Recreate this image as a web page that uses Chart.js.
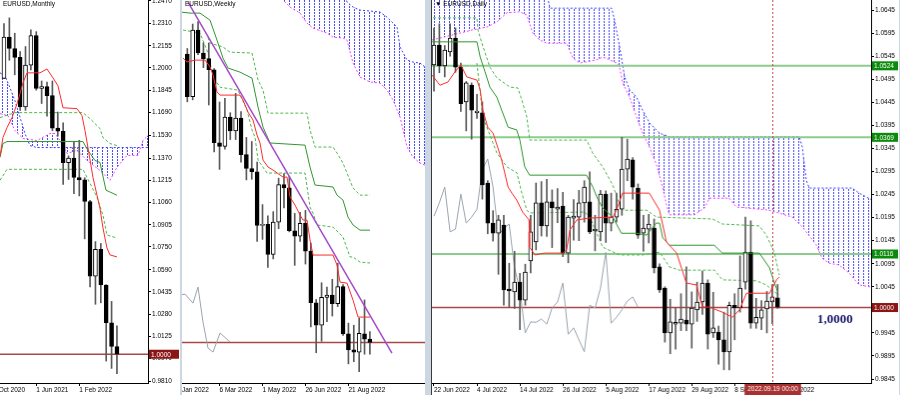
<!DOCTYPE html>
<html>
<head>
<meta charset="utf-8">
<script src="https://cdn.jsdelivr.net/npm/chart.js@4.4.0/dist/chart.umd.min.js"></script>
<style>
html, body { margin: 0; padding: 0; width: 900px; height: 395px; overflow: hidden; background: #cdd7e2; position: relative; }
canvas { position: absolute; top: 0; background: #fff; }
#monthly { left: 0; }
#weekly { left: 182px; }
#daily { left: 431px; border-left: 1px solid #3a3a3a; }
</style>
</head>
<body>
<canvas id="monthly" width="180" height="395"></canvas>
<canvas id="weekly" width="243" height="395"></canvas>
<canvas id="daily" width="468" height="395"></canvas>
<script>
// ---------- Monthly (index 0 = Dec 2020) ----------
const M_OPEN  = [1.1927,1.2216,1.2136,1.2074,1.1728,1.2020,1.2227,1.1858,1.1870,1.1807,1.1580,1.1558,1.1338,1.1370,1.1235,1.1218,1.1067,1.0545,1.0733,1.0484,1.0220,1.0054];
const M_HIGH  = [1.2310,1.2350,1.2243,1.2114,1.2150,1.2266,1.2254,1.1909,1.1901,1.1909,1.1692,1.1616,1.1386,1.1482,1.1495,1.1233,1.1076,1.0787,1.0774,1.0486,1.0369,1.0198];
const M_LOW   = [1.1925,1.2054,1.1952,1.1704,1.1704,1.1986,1.1845,1.1752,1.1664,1.1562,1.1524,1.1186,1.1221,1.1121,1.1106,1.0806,1.0470,1.0349,1.0359,0.9952,0.9901,0.9864];
const M_CLOSE = [1.2216,1.2136,1.2074,1.1728,1.2020,1.2227,1.1858,1.1870,1.1807,1.1580,1.1558,1.1338,1.1370,1.1235,1.1218,1.1067,1.0545,1.0733,1.0484,1.0220,1.0054,1.0001];
const M_TENKAN = [[-0.74,1.1382],[-0.19,1.1514],[0.56,1.1583],[1.49,1.1653],[2.42,1.1750],[2.97,1.1820],[3.53,1.1896],[4.28,1.1966],[6.69,1.1966],[7.99,1.1993],[9.11,1.1931],[10.04,1.1875],[10.97,1.1722],[13.57,1.1716],[14.50,1.1667],[15.06,1.1563],[15.61,1.1444],[16.54,1.1236],[17.29,1.1111],[17.84,1.1021],[18.40,1.0882],[19.14,1.0743],[19.70,1.0694],[21.00,1.0680]];
const M_KIJUN = [[-0.74,1.1375],[-0.19,1.1472],[0.56,1.1486],[14.68,1.1486],[15.61,1.1424],[16.91,1.1354],[17.84,1.1340],[18.96,1.1146],[21.00,1.1111]];
const M_DASH1 = [[-0.74,1.1653],[2.04,1.1688],[14.68,1.1688],[15.99,1.1646],[17.84,1.1577],[18.40,1.1514],[19.70,1.1472],[21.00,1.1458]];
const M_DASH2 = [[-0.74,1.1215],[0.56,1.1292],[14.68,1.1292],[17.29,1.1097],[18.40,1.0972],[19.14,1.0833],[21.00,1.0812]];
const M_SPAN_A = [[-0.74,1.1966],[0.19,1.1945],[1.12,1.1861],[2.04,1.1771],[2.60,1.1702],[3.35,1.1611],[3.90,1.1542],[4.83,1.1458],[6.13,1.1444],[26.77,1.1444]];
const M_SPAN_B = [[-0.74,1.1681],[0.74,1.1667],[2.04,1.1563],[3.53,1.1507],[6.13,1.1493],[8.55,1.1542],[9.48,1.1542],[10.41,1.1493],[11.71,1.1403],[13.57,1.1424],[15.43,1.1354],[17.84,1.1285],[19.70,1.1215],[21.00,1.1306],[22.86,1.1389],[24.91,1.1389],[25.84,1.1493],[26.77,1.1528]];
const M_XTICKS = [-2, 6, 14];
const M_XLABELS = ['1 Oct 2020', '1 Jun 2021', '1 Feb 2022'];
const M_YTICKS = [1.2470,1.2310,1.2155,1.2000,1.1845,1.1690,1.1530,1.1370,1.1215,1.1060,1.0905,1.0750,1.0590,1.0435,1.0280,1.0125,0.9970,0.9810];

// ---------- Weekly (index 0 = 23 Jan 2022) ----------
const W_OPEN  = [1.1343,1.1145,1.1455,1.1348,1.1322,1.1270,1.0930,1.0913,1.1050,1.0985,1.1045,1.0875,1.0810,1.0795,1.0545,1.0550,1.0410,1.0560,1.0735,1.0720,1.0520,1.0495,1.0555,1.0425,1.0185,1.0080,1.0210,1.0220,1.0180,1.0260,1.0040,0.9965,0.9955,1.0040,1.0015];
const W_HIGH  = [1.1369,1.1483,1.1495,1.1395,1.1395,1.1275,1.1120,1.1137,1.1070,1.1160,1.1075,1.0955,1.0936,1.0840,1.0642,1.0590,1.0609,1.0765,1.0787,1.0774,1.0601,1.0606,1.0615,1.0463,1.0200,1.0278,1.0258,1.0294,1.0369,1.0270,1.0090,1.0080,1.0113,1.0198,1.0050];
const W_LOW   = [1.1121,1.1130,1.1340,1.1280,1.1106,1.0887,1.0806,1.0900,1.0945,1.0945,1.0840,1.0757,1.0760,1.0470,1.0480,1.0349,1.0389,1.0530,1.0627,1.0515,1.0359,1.0470,1.0365,1.0072,0.9952,1.0005,1.0097,1.0123,1.0167,1.0033,0.9900,0.9910,0.9864,0.9945,0.9945];
const W_CLOSE = [1.1145,1.1455,1.1348,1.1322,1.1270,1.0930,1.0913,1.1050,1.0985,1.1045,1.0875,1.0810,1.0795,1.0545,1.0550,1.0410,1.0560,1.0735,1.0720,1.0520,1.0495,1.0555,1.0425,1.0185,1.0080,1.0210,1.0220,1.0180,1.0260,1.0040,0.9965,0.9955,1.0042,1.0015,1.0000];
const W_TENKAN = [[-0.80,1.1324],[-0.06,1.1306],[1.43,1.1315],[3.30,1.1315],[4.23,1.1283],[4.79,1.1245],[5.53,1.1166],[6.09,1.1152],[9.81,1.1152],[10.37,1.1129],[11.30,1.1073],[12.23,1.1036],[12.98,1.0966],[13.54,1.0929],[14.10,1.0849],[15.03,1.0817],[15.96,1.0803],[17.82,1.0770],[18.57,1.0770],[19.12,1.0677],[20.06,1.0640],[20.99,1.0593],[21.55,1.0570],[22.29,1.0570],[22.85,1.0477],[23.41,1.0407],[27.13,1.0407],[27.88,1.0360],[28.44,1.0281],[29.74,1.0276],[30.86,1.0197],[31.79,1.0118],[34.02,1.0118]];
const W_KIJUN = [[-1.36,1.1539],[0.50,1.1534],[2.37,1.1534],[4.23,1.1501],[5.53,1.1408],[6.65,1.1324],[7.58,1.1278],[9.81,1.1259],[12.05,1.1231],[13.17,1.1096],[14.10,1.1003],[15.40,1.0929],[21.92,1.0919],[22.85,1.0817],[23.78,1.0733],[27.13,1.0724],[27.88,1.0686],[28.99,1.0663],[29.92,1.0584],[30.86,1.0547],[32.16,1.0523],[34.02,1.0523]];
const W_DASH1 = [[3.85,1.1420],[4.23,1.1394],[6.65,1.1376],[7.95,1.1352],[12.05,1.1348],[13.17,1.1222],[14.10,1.1175],[15.03,1.1068],[22.29,1.1068],[22.85,1.0989],[23.78,1.0910],[27.13,1.0910],[27.88,1.0882],[28.99,1.0835],[30.86,1.0719],[32.16,1.0686],[34.02,1.0686]];
const W_DASH2 = [[-0.80,1.1455],[2.37,1.1441],[3.85,1.1348],[4.79,1.1236],[6.09,1.1189],[9.44,1.1175],[11.12,1.1082],[12.05,1.0989],[12.61,1.0956],[13.17,1.0849],[14.84,1.0789],[21.92,1.0789],[22.85,1.0630],[23.41,1.0602],[24.16,1.0547],[27.13,1.0537],[28.99,1.0491],[30.30,1.0398],[30.86,1.0398],[32.16,1.0374],[34.02,1.0370]];
const W_CHIKOU = [[-1.36,1.0221],[-0.43,1.0225],[1.06,1.0183],[1.99,1.0258],[2.92,1.0095],[3.85,0.9974],[4.79,0.9955],[6.09,1.0044],[7.95,1.0002]];
const W_TREND = [[0.13,1.1585],[38.10,0.9950]];
const W_SPAN_A = [[17.26,1.1650],[29.00,1.1650],[29.74,1.1585],[30.86,1.1562],[32.16,1.1548],[35.88,1.1539],[37.19,1.1515],[39.05,1.1469],[39.61,1.1376],[40.92,1.1315],[42.03,1.1306],[43.33,1.1301],[44.26,1.1283]];
const W_SPAN_B = [[17.26,1.1620],[17.82,1.1595],[19.12,1.1562],[20.99,1.1534],[22.29,1.1487],[23.41,1.1464],[26.01,1.1441],[27.13,1.1422],[28.99,1.1418],[29.74,1.1408],[30.86,1.1301],[32.16,1.1236],[34.02,1.1213],[35.88,1.1208],[37.19,1.1175],[38.31,1.1129],[39.61,1.1050],[40.92,1.0910],[42.03,1.0863],[43.33,1.0835],[44.26,1.0826]];
const W_XTICKS = [-2, 6, 14, 22, 30];
const W_XLABELS = ['9 Jan 2022', '6 Mar 2022', '1 May 2022', '26 Jun 2022', '21 Aug 2022'];

// ---------- Daily (index 0 = 22 Jun 2022) ----------
const D_OPEN  = [1.0526,1.0569,1.0524,1.0554,1.0584,1.0521,1.0446,1.0482,1.0422,1.0422,1.0270,1.0183,1.0161,1.0179,1.0040,1.0034,1.0055,1.0016,1.0101,1.0142,1.0227,1.0177,1.0229,1.0213,1.0220,1.0118,1.0194,1.0196,1.0227,1.0229,1.0166,1.0164,1.0246,1.0183,1.0196,1.0213,1.0300,1.0320,1.0259,1.0161,1.0170,1.0172,1.0088,1.0042,0.9945,0.9964,0.9966,0.9973,0.9964,0.9995,1.0012,1.0053,0.9945,0.9947,0.9930,0.9904,1.0005,0.9999,1.0055,1.0120,0.9966,0.9977,0.9997,1.0012,1.0021];
const D_HIGH  = [1.0606,1.0615,1.0568,1.0615,1.0606,1.0530,1.0490,1.0487,1.0462,1.0446,1.0275,1.0210,1.0200,1.0200,1.0096,1.0122,1.0074,1.0094,1.0200,1.0270,1.0273,1.0278,1.0255,1.0258,1.0250,1.0200,1.0234,1.0254,1.0275,1.0294,1.0200,1.0254,1.0253,1.0248,1.0248,1.0369,1.0365,1.0325,1.0268,1.0200,1.0202,1.0192,1.0095,1.0045,1.0018,0.9999,1.0030,1.0088,1.0034,1.0055,1.0079,1.0060,1.0033,0.9960,0.9990,1.0012,1.0030,1.0112,1.0196,1.0188,1.0020,1.0015,1.0035,1.0050,1.0050];
const D_LOW   = [1.0469,1.0509,1.0500,1.0545,1.0510,1.0425,1.0383,1.0365,1.0410,1.0235,1.0160,1.0144,1.0072,1.0005,1.0001,0.9998,0.9952,1.0005,1.0075,1.0125,1.0155,1.0154,1.0130,1.0184,1.0110,1.0097,1.0146,1.0145,1.0185,1.0160,1.0123,1.0145,1.0141,1.0166,1.0185,1.0200,1.0275,1.0235,1.0150,1.0122,1.0140,1.0075,1.0033,0.9925,0.9900,0.9910,0.9950,0.9950,0.9912,0.9970,0.9985,0.9910,0.9935,0.9877,0.9865,0.9865,0.9930,0.9990,1.0040,0.9955,0.9955,0.9952,0.9945,0.9965,0.9998];
const D_CLOSE = [1.0569,1.0524,1.0558,1.0584,1.0521,1.0442,1.0487,1.0428,1.0426,1.0266,1.0183,1.0161,1.0190,1.0038,1.0036,1.0055,1.0016,1.0077,1.0164,1.0227,1.0177,1.0229,1.0216,1.0218,1.0118,1.0196,1.0198,1.0227,1.0261,1.0164,1.0170,1.0246,1.0183,1.0196,1.0213,1.0300,1.0322,1.0261,1.0157,1.0172,1.0181,1.0086,1.0038,0.9945,0.9969,0.9968,0.9975,0.9964,0.9999,1.0012,1.0053,0.9942,0.9956,0.9930,0.9904,1.0005,0.9999,1.0042,1.0120,0.9966,0.9979,0.9995,1.0014,1.0023,1.0001];
const D_CHIKOU = [1.0198,1.0227,1.0261,1.0164,1.0170,1.0246,1.0183,1.0196,1.0213,1.0300,1.0322,1.0261,1.0157,1.0172,1.0181,1.0086,1.0038,0.9945,0.9969,0.9968,0.9975,0.9964,0.9999,1.0012,1.0053,0.9942,0.9956,0.9930,0.9904,1.0005,0.9999,1.0042,1.0120,0.9966,0.9979,0.9995,1.0014,1.0023,1.0001];
const D_TENKAN = [[-0.37,1.0504],[1.1,1.0482],[2.6,1.0489],[3.9,1.0511],[5.0,1.0526],[6.1,1.0500],[8.0,1.0493],[8.6,1.0472],[9.1,1.0428],[10.0,1.0391],[11.0,1.0378],[11.9,1.0346],[12.6,1.0320],[13.8,1.0261],[14.5,1.0248],[15.4,1.0233],[16.5,1.0207],[17.7,1.0190],[17.8,1.0131],[18.8,1.0114],[20.6,1.0118],[24.0,1.0118],[24.7,1.0125],[25.3,1.0168],[26.6,1.0190],[29.0,1.0194],[33.3,1.0196],[34.0,1.0211],[35.1,1.0248],[40.1,1.0248],[42.0,1.0211],[43.3,1.0142],[45.2,1.0118],[47.0,1.0053],[48.9,1.0049],[50.0,1.0001],[51.3,1.0001],[53.7,0.9990],[55.6,0.9979],[56.9,0.9995],[58.2,1.0031],[62.5,1.0031],[63.8,1.0060],[64.3,1.0066]];
const D_KIJUN = [[-0.37,1.0576],[8.0,1.0576],[8.6,1.0543],[9.5,1.0511],[10.4,1.0478],[11.7,1.0456],[12.6,1.0428],[13.8,1.0391],[15.4,1.0385],[16.0,1.0363],[16.9,1.0305],[17.8,1.0287],[28.4,1.0287],[29.6,1.0261],[30.3,1.0240],[31.4,1.0216],[33.3,1.0196],[34.9,1.0161],[37.7,1.0161],[39.6,1.0157],[41.4,1.0183],[42.0,1.0183],[42.6,1.0151],[43.9,1.0135],[52.2,1.0135],[53.7,1.0118],[60.6,1.0118],[62.5,1.0086],[63.4,1.0053],[64.0,1.0035]];
const D_DASH1 = [[-0.19,1.0628],[7.99,1.0628],[8.18,1.0602],[8.92,1.0573],[10.41,1.0521],[11.71,1.0498],[14.13,1.0478],[15.61,1.0476],[16.36,1.0450],[17.29,1.0413],[17.84,1.0363],[28.44,1.0363],[29.55,1.0335],[31.41,1.0305],[33.27,1.0266],[34.94,1.0211],[39.59,1.0211],[41.45,1.0196],[51.86,1.0192],[53.72,1.0181],[60.59,1.0177],[61.90,1.0157],[63.38,1.0120],[64.31,1.0070]];
const D_DASH2 = [[7.99,1.0530],[9.11,1.0413],[10.78,1.0363],[11.71,1.0335],[13.57,1.0305],[15.43,1.0292],[16.36,1.0248],[17.29,1.0211],[17.84,1.0205],[28.07,1.0207],[29.00,1.0196],[30.30,1.0162],[31.41,1.0131],[34.57,1.0114],[38.85,1.0114],[42.01,1.0120],[43.87,1.0088],[45.72,1.0081],[52.23,1.0081],[53.72,1.0060],[60.04,1.0058],[61.90,1.0049],[63.38,1.0034],[64.31,1.0027]];
const D_SPAN_A = [[-0.37,1.0673],[21.19,1.0673],[21.56,1.0649],[33.09,1.0649],[33.64,1.0623],[34.57,1.0565],[35.50,1.0500],[36.43,1.0472],[37.73,1.0456],[38.85,1.0428],[40.15,1.0400],[42.01,1.0378],[43.87,1.0370],[68.03,1.0370],[68.59,1.0348],[69.33,1.0276],[69.89,1.0259],[77.88,1.0259],[79.18,1.0248],[81.60,1.0233]];
const D_SPAN_B = [[-0.37,1.0580],[4.83,1.0595],[7.25,1.0602],[9.85,1.0608],[11.71,1.0619],[13.57,1.0639],[15.99,1.0641],[17.29,1.0634],[18.40,1.0595],[19.70,1.0580],[21.00,1.0573],[24.72,1.0573],[25.84,1.0541],[27.14,1.0530],[30.30,1.0537],[31.41,1.0543],[32.71,1.0537],[34.01,1.0530],[34.57,1.0521],[35.13,1.0487],[36.43,1.0456],[37.73,1.0413],[38.85,1.0378],[40.15,1.0348],[41.45,1.0309],[42.57,1.0261],[43.31,1.0222],[43.87,1.0201],[48.51,1.0201],[50.37,1.0216],[51.30,1.0237],[55.02,1.0237],[56.32,1.0218],[62.45,1.0211],[66.73,1.0196],[68.59,1.0175],[71.19,1.0136],[72.30,1.0107],[73.61,1.0096],[75.46,1.0092],[77.32,1.0075],[79.18,1.0049],[81.60,1.0044]];
const D_LEVELS = [1.0524, 1.0369, 1.0116];
const KEY_LEVEL = 1.0000;
const D_XTICKS = [0, 8, 16, 24, 32, 40, 48, 56, 64];
const D_XLABELS = ['22 Jun 2022', '4 Jul 2022', '14 Jul 2022', '26 Jul 2022', '5 Aug 2022', '17 Aug 2022', '29 Aug 2022', '8 Sep 2022', '20 Sep 2022'];
const D_YTICKS = [1.0645,1.0595,1.0545,1.0495,1.0445,1.0395,1.0345,1.0295,1.0245,1.0195,1.0145,1.0095,1.0045,0.9995,0.9945,0.9895,0.9845];
const D_CURSOR = 63;
const D_CURSOR_TEXT = '2022.09.19 00:00';
const D_NOTE = { x: 74.7, y: 0.9973, text: '1,0000' };

Chart.defaults.font.family = '"Liberation Sans", Arial, sans-serif';
Chart.defaults.font.size = 6.5;
Chart.defaults.color = '#000';
Chart.defaults.animation = false;
Chart.defaults.plugins.legend.display = false;
Chart.defaults.plugins.tooltip.enabled = false;

const pts = arr => arr.map(([x, y]) => ({ x, y }));

function hatch(color) {
    const c = document.createElement('canvas');
    c.width = 5;
    c.height = 3;
    const g = c.getContext('2d');
    g.fillStyle = color;
    g.fillRect(2, 0, 1, 2);
    return g.createPattern(c, 'repeat');
}

function line(data, color, width, dash, order, extra) {
    return Object.assign({
        type: 'line', data: pts(data), borderColor: color, borderWidth: width,
        borderDash: dash || [], pointRadius: 0, tension: 0, fill: false, order
    }, extra || {});
}

function candles(o, h, l, c) {
    return [
        {
            type: 'bar', data: o.map((v, i) => ({ x: i, y: [l[i], h[i]] })),
            barThickness: 1, backgroundColor: '#5a5a5a', grouped: false, order: 5
        },
        {
            type: 'bar', data: o.map((v, i) => ({ x: i, y: [Math.min(v, c[i]), Math.max(v, c[i])] })),
            barThickness: 4, minBarLength: 1, grouped: false, order: 4,
            backgroundColor: o.map((v, i) => c[i] >= v ? '#ffffff' : '#000000'),
            borderColor: '#000', borderWidth: 1, borderSkipped: false
        }
    ];
}

function cloud(a, b) {
    return [
        line(a, '#3c3cff', 1, [2, 2], 10, { fill: '+1', backgroundColor: hatch('#4a4aff') }),
        line(b, '#ff3cff', 1, [2, 2], 10)
    ];
}

function scales(xr, yr, xticks, xlabels, yticks, yWidth) {
    const x = {
        type: 'linear', min: xr[0], max: xr[1], bounds: 'data', offset: false,
        afterBuildTicks: s => { s.ticks = xticks.map(v => ({ value: v })); },
        afterFit: s => { s.height = 12; s.paddingLeft = 0; s.paddingRight = 0; },
        ticks: { autoSkip: false, maxRotation: 0, minRotation: 0, align: 'start', padding: 0,
            callback: (v, i) => xlabels[i] },
        grid: { drawOnChartArea: false, tickLength: 3, tickColor: '#000', offset: false },
        border: { color: '#000' }
    };
    const y = yticks ? {
        type: 'linear', position: 'right', min: yr[0], max: yr[1], bounds: 'data',
        afterBuildTicks: s => { s.ticks = yticks.map(v => ({ value: v })); },
        afterFit: s => { s.width = yWidth; s.paddingTop = 0; s.paddingBottom = 0; },
        ticks: { autoSkip: false, padding: 1, callback: v => v.toFixed(4) },
        grid: { drawOnChartArea: false, tickLength: 3, tickColor: '#000' },
        border: { color: '#000' }
    } : { type: 'linear', display: false, min: yr[0], max: yr[1], bounds: 'data' };
    return { x, y };
}

// titles, price boxes on the axis, cursor and the note
const extras = {
    id: 'extras',
    afterDraw(chart, args, opts) {
        const { ctx, chartArea: a, scales: { x, y } } = chart;
        ctx.save();
        ctx.font = '6.5px "Liberation Sans", Arial, sans-serif';
        ctx.textAlign = 'left';
        ctx.textBaseline = 'top';
        ctx.fillStyle = '#000';
        ctx.fillText(opts.title, a.left + 3, 1);

        if (opts.cursor !== undefined) {
            const px = Math.round(x.getPixelForValue(opts.cursor)) + 0.5;
            ctx.strokeStyle = '#c84848';
            ctx.setLineDash([2, 2]);
            ctx.lineWidth = 1;
            ctx.beginPath();
            ctx.moveTo(px, a.top);
            ctx.lineTo(px, a.bottom);
            ctx.stroke();
            ctx.setLineDash([]);
            const w = ctx.measureText(opts.cursorText).width + 6;
            ctx.fillStyle = '#a83030';
            ctx.fillRect(px - w / 2, a.bottom + 1, w, 11);
            ctx.fillStyle = '#fff';
            ctx.textAlign = 'center';
            ctx.fillText(opts.cursorText, px, a.bottom + 3);
        }

        (opts.boxes || []).forEach(b => {
            const py = y.getPixelForValue(b.value);
            ctx.fillStyle = b.bg;
            ctx.fillRect(y.left + 1, py - 4.5, y.width - 2, 9);
            ctx.fillStyle = '#fff';
            ctx.textAlign = 'left';
            ctx.textBaseline = 'middle';
            ctx.fillText(b.value.toFixed(4), y.left + 3, py + 0.5);
        });

        if (opts.note) {
            ctx.font = 'bold 13px "Liberation Serif", "Times New Roman", serif';
            ctx.fillStyle = '#1c1c6e';
            ctx.textAlign = 'center';
            ctx.textBaseline = 'middle';
            ctx.fillText(opts.note.text, x.getPixelForValue(opts.note.x), y.getPixelForValue(opts.note.y));
        }
        ctx.restore();
    }
};

function baseOptions(sc, extra) {
    return {
        responsive: false,
        maintainAspectRatio: false,
        layout: { padding: 0 },
        scales: sc,
        plugins: { extras: extra }
    };
}

// Monthly
const MX = [-0.74, 26.77], MY = [0.9799, 1.2475];
new Chart(document.getElementById('monthly'), {
    type: 'line',
    data: {
        datasets: [
            ...cloud(M_SPAN_A, M_SPAN_B),
            line([[MX[0], KEY_LEVEL], [MX[1], KEY_LEVEL]], '#a84848', 1.5, null, 8),
            line(M_DASH1, '#4cb84c', 1, [3, 2], 6),
            line(M_DASH2, '#4cb84c', 1, [3, 2], 6),
            ...candles(M_OPEN, M_HIGH, M_LOW, M_CLOSE),
            line(M_KIJUN, '#2f962f', 1, null, 2),
            line(M_TENKAN, '#ff2a2a', 1, null, 1)
        ]
    },
    options: baseOptions(scales(MX, MY, M_XTICKS, M_XLABELS, M_YTICKS, 32),
        { title: 'EURUSD,Monthly', boxes: [{ value: KEY_LEVEL, bg: '#8b1414' }] }),
    plugins: [extras]
});

// Weekly
const WX = [-0.99, 44.26], WY = [0.9811, 1.1595];
new Chart(document.getElementById('weekly'), {
    type: 'line',
    data: {
        datasets: [
            ...cloud(W_SPAN_A, W_SPAN_B),
            line([[WX[0], KEY_LEVEL], [WX[1], KEY_LEVEL]], '#a84848', 1.5, null, 8),
            line(W_CHIKOU, '#9aa4ae', 1, null, 7),
            line(W_DASH1, '#4cb84c', 1, [3, 2], 6),
            line(W_DASH2, '#4cb84c', 1, [3, 2], 6),
            ...candles(W_OPEN, W_HIGH, W_LOW, W_CLOSE),
            line(W_KIJUN, '#2f962f', 1, null, 2),
            line(W_TENKAN, '#ff2a2a', 1, null, 1),
            line(W_TREND, '#a64ac9', 1.5, null, 0)
        ]
    },
    options: baseOptions(scales(WX, WY, W_XTICKS, W_XLABELS, null, 0), { title: 'EURUSD,Weekly' }),
    plugins: [extras]
});

// Daily
const DX = [-0.37, 81.41], DY = [0.98364, 1.06667];
new Chart(document.getElementById('daily'), {
    type: 'line',
    data: {
        datasets: [
            ...cloud(D_SPAN_A, D_SPAN_B),
            ...D_LEVELS.map(v => line([[DX[0], v], [DX[1], v]], '#8ccc8c', 2, null, 9)),
            line([[DX[0], KEY_LEVEL], [DX[1], KEY_LEVEL]], '#a84848', 1.5, null, 8),
            line(D_CHIKOU.map((v, i) => [i, v]), '#9aa4ae', 1, null, 7),
            line(D_DASH1, '#4cb84c', 1, [3, 2], 6),
            line(D_DASH2, '#4cb84c', 1, [3, 2], 6),
            ...candles(D_OPEN, D_HIGH, D_LOW, D_CLOSE),
            line(D_KIJUN, '#2f962f', 1, null, 2),
            line(D_TENKAN, '#ff2a2a', 1, null, 1)
        ]
    },
    options: baseOptions(scales(DX, DY, D_XTICKS, D_XLABELS, D_YTICKS, 28), {
        title: '\u25BC EURUSD,Daily',
        boxes: [
            ...D_LEVELS.map(v => ({ value: v, bg: '#0c8a0c' })),
            { value: KEY_LEVEL, bg: '#8b1414' }
        ],
        cursor: D_CURSOR,
        cursorText: D_CURSOR_TEXT,
        note: D_NOTE
    }),
    plugins: [extras]
});
</script>
</body>
</html>
